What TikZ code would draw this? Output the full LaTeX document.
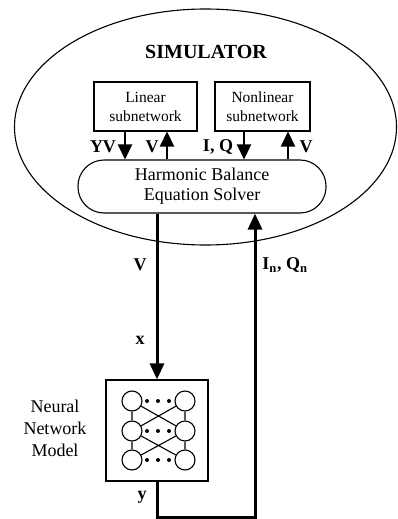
\documentclass[tikz,border=0pt]{standalone}
\usepackage{fontspec}
\setmainfont{Liberation Serif}
\usetikzlibrary{arrows.meta,shapes.geometric}

\tikzset{
  frame/.style={draw, line width=1.1pt, inner sep=0pt},
  boxtext/.style={font=\fontsize{15.5}{19}\selectfont, align=center},
  lbl/.style={font=\fontsize{18}{20}\selectfont\bfseries, inner sep=0pt},
  arr/.style={line width=2.6pt, -{Triangle[length=15pt,width=14pt]}},
  bigarr/.style={line width=3pt, -{Triangle[length=16pt,width=14pt]}},
  neuron/.style={circle, draw, line width=1.1pt, minimum size=20pt, inner sep=0pt},
  wire/.style={line width=1.1pt},
  dot/.style={circle, fill, minimum size=4pt, inner sep=0pt}
}

\begin{document}
\begin{tikzpicture}[x=1pt, y=-1pt]
\useasboundingbox (0,0) rectangle (397,519);

% the simulator enclosure
\node[frame, ellipse, minimum width=382pt, minimum height=236pt] (sim) at (205.5,127) {};
\node[font=\fontsize{20}{22}\selectfont\bfseries] (title) at (206,52) {SIMULATOR};

% subnetworks and the solver
\node[frame, boxtext, minimum width=103pt, minimum height=49pt] (lin) at (145.5,106.5) {Linear\\subnetwork};
\node[frame, boxtext, minimum width=95pt, minimum height=49pt] (nonlin) at (262.5,106.5) {Nonlinear\\subnetwork};
\node[frame, rounded corners=26pt, minimum width=248pt, minimum height=53pt,
      font=\fontsize{18}{20}\selectfont, align=center] (hb) at (202,186.5) {Harmonic Balance\\Equation Solver};

% neural network model
\node[frame, minimum width=102pt, minimum height=101pt] (nn) at (157,430.5) {};
\node[font=\fontsize{18}{22}\selectfont, align=center] (nnlabel) at (55,428) {Neural\\Network\\Model};

\node[neuron] (l1) at (132,401) {};
\node[neuron] (l2) at (132,431) {};
\node[neuron] (l3) at (132,460) {};
\node[neuron] (r1) at (185,401) {};
\node[neuron] (r2) at (185,431) {};
\node[neuron] (r3) at (185,460) {};
\foreach \r/\y in {1/401,2/431,3/460}{
  \node[dot] (d\r a) at (147,\y) {};
  \node[dot] (d\r b) at (158,\y) {};
  \node[dot] (d\r c) at (169,\y) {};
}
\draw[wire] (l1) -- (l2) (l2) -- (l3) (r1) -- (r2) (r2) -- (r3)
            (l1) -- (r2) (r1) -- (l2) (l2) -- (r3) (r2) -- (l3);

% arrow columns
\coordinate (cyv) at (125,0);
\coordinate (cv1) at (167,0);
\coordinate (ciq) at (244,0);
\coordinate (cv2) at (288,0);
\coordinate (bot) at (255,517);

\draw[arr] (lin.south -| cyv) -- (hb.north -| cyv);
\draw[arr] (hb.north -| cv1) -- (lin.south -| cv1);
\draw[arr] (nonlin.south -| ciq) -- (hb.north -| ciq);
\draw[arr] (hb.north -| cv2) -- (nonlin.south -| cv2);

\draw[bigarr] (hb.south -| nn.north) -- (nn.north);
\draw[bigarr] (nn.south) |- (bot) -- (hb.south -| bot);

% signal labels
\node[lbl] (tyv) at (103,147) {YV};
\node[lbl] (tv1) at (152,147) {V};
\node[lbl] (tiq) at (218,147) {I, Q};
\node[lbl] (tv2) at (306,147) {V};
\node[lbl] (tv3) at (140,265) {V};
\node[lbl] (tx) at (140,340) {x};
\node[lbl] (ty) at (142,497) {y};
\node[lbl] (tin) at (285,265) {I\textsubscript{n}, Q\textsubscript{n}};
\end{tikzpicture}
\end{document}
